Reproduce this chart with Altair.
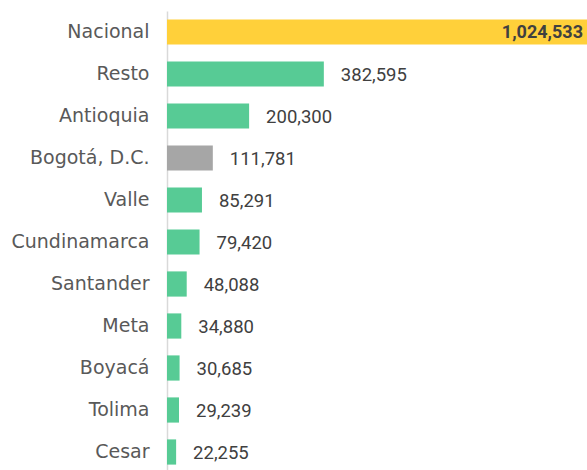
import altair as alt
import pandas as pd

categories = ["Nacional", "Resto", "Antioquia", "Bogotá, D.C.", "Valle", "Cundinamarca",
              "Santander", "Meta", "Boyacá", "Tolima", "Cesar"]
values = [1024533, 382595, 200300, 111781, 85291, 79420, 48088, 34880, 30685, 29239, 22255]
groups = ["nacional", "dept", "dept", "bogota", "dept", "dept", "dept", "dept", "dept", "dept", "dept"]

df = pd.DataFrame({"cat": categories, "val": values, "grp": groups})

FONT = "DejaVu Sans"
NUMFONT = "Roboto"

y = alt.Y("cat:N", sort=categories, title=None,
          scale=alt.Scale(paddingInner=0.4, paddingOuter=0.2),
          axis=alt.Axis(labelFontSize=19, labelColor="#595959", labelFont=FONT,
                        labelPadding=18, ticks=False, domainColor="#d9d9d9",
                        domainWidth=1.5, labelLimit=300))
x = alt.X("val:Q", title=None, axis=None,
          scale=alt.Scale(domain=[0, max(values)], nice=False, zero=True))

bars = alt.Chart(df).mark_bar().encode(
    x=x, y=y,
    color=alt.Color("grp:N", legend=None,
                    scale=alt.Scale(domain=["nacional", "dept", "bogota"],
                                    range=["#FFD03A", "#57CB95", "#A6A6A6"])),
)

labels = alt.Chart(df).transform_filter(alt.datum.grp != "nacional").mark_text(
    align="left", baseline="middle", dx=17, dy=1, fontSize=18.5, font=NUMFONT, color="#404040"
).encode(x=x, y=y, text=alt.Text("val:Q", format=","))

top = alt.Chart(df).transform_filter(alt.datum.grp == "nacional").mark_text(
    align="right", baseline="middle", dx=-4, dy=1, fontSize=18, fontWeight="bold",
    font=NUMFONT, color="#404040"
).encode(x=x, y=y, text=alt.Text("val:Q", format=","))

chart = (bars + labels + top).properties(
    width=420, height=462,
    padding={"left": 167, "top": 11, "right": 0, "bottom": 0},
    autosize="none",
).configure_view(stroke=None)

chart.save("out.html", embed_options={"renderer": "svg", "actions": False})
